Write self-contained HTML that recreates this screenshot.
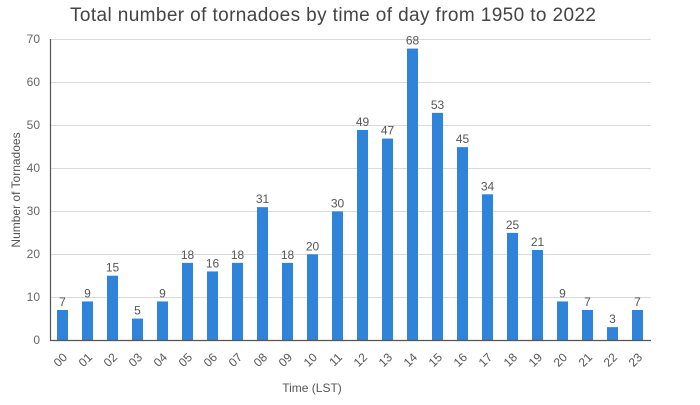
<!DOCTYPE html>
<html><head><meta charset="utf-8"><style>body{margin:0;background:#fff}</style></head><body>
<svg width="700" height="400" xmlns="http://www.w3.org/2000/svg" font-family="'Liberation Sans',sans-serif">
<text x="70" y="21" font-size="19" fill="#444" textLength="526" lengthAdjust="spacing">Total number of tornadoes by time of day from 1950 to 2022</text>
<g stroke="#d9d9d9" stroke-width="1">
<line x1="50" x2="651" y1="297.5" y2="297.5"/><line x1="50" x2="651" y1="254.5" y2="254.5"/><line x1="50" x2="651" y1="211.5" y2="211.5"/><line x1="50" x2="651" y1="168.5" y2="168.5"/><line x1="50" x2="651" y1="125.5" y2="125.5"/><line x1="50" x2="651" y1="82.5" y2="82.5"/><line x1="50" x2="651" y1="39.5" y2="39.5"/>
</g>
<g font-size="12" fill="#666" text-anchor="end">
<text x="40" y="344">0</text><text x="40" y="301">10</text><text x="40" y="258">20</text><text x="40" y="215">30</text><text x="40" y="172">40</text><text x="40" y="129">50</text><text x="40" y="86">60</text><text x="40" y="43">70</text>
</g>
<text transform="translate(20,190) rotate(-90)" font-size="12" fill="#555" text-anchor="middle">Number of Tornadoes</text>
<text x="312" y="392" font-size="12" fill="#555" text-anchor="middle">Time (LST)</text>
<g fill="#2f84d9">
<rect x="57" y="310" width="11" height="30"/>
<rect x="82" y="301.43" width="11" height="38.57"/>
<rect x="107" y="275.71" width="11" height="64.29"/>
<rect x="132" y="318.57" width="11" height="21.43"/>
<rect x="157" y="301.43" width="11" height="38.57"/>
<rect x="182" y="262.86" width="11" height="77.14"/>
<rect x="207" y="271.43" width="11" height="68.57"/>
<rect x="232" y="262.86" width="11" height="77.14"/>
<rect x="257" y="207.14" width="11" height="132.86"/>
<rect x="282" y="262.86" width="11" height="77.14"/>
<rect x="307" y="254.29" width="11" height="85.71"/>
<rect x="332" y="211.43" width="11" height="128.57"/>
<rect x="357" y="130" width="11" height="210"/>
<rect x="382" y="138.57" width="11" height="201.43"/>
<rect x="407" y="48.57" width="11" height="291.43"/>
<rect x="432" y="112.86" width="11" height="227.14"/>
<rect x="457" y="147.14" width="11" height="192.86"/>
<rect x="482" y="194.29" width="11" height="145.71"/>
<rect x="507" y="232.86" width="11" height="107.14"/>
<rect x="532" y="250" width="11" height="90"/>
<rect x="557" y="301.43" width="11" height="38.57"/>
<rect x="582" y="310" width="11" height="30"/>
<rect x="607" y="327.14" width="11" height="12.86"/>
<rect x="632" y="310" width="11" height="30"/>
</g>
<g font-size="12" fill="#555" text-anchor="middle">
<text x="62.5" y="306">7</text>
<text x="87.5" y="297.4">9</text>
<text x="112.5" y="271.7">15</text>
<text x="137.5" y="314.6">5</text>
<text x="162.5" y="297.4">9</text>
<text x="187.5" y="258.9">18</text>
<text x="212.5" y="267.4">16</text>
<text x="237.5" y="258.9">18</text>
<text x="262.5" y="203.1">31</text>
<text x="287.5" y="258.9">18</text>
<text x="312.5" y="250.3">20</text>
<text x="337.5" y="207.4">30</text>
<text x="362.5" y="126">49</text>
<text x="387.5" y="134.6">47</text>
<text x="412.5" y="44.6">68</text>
<text x="437.5" y="108.9">53</text>
<text x="462.5" y="143.1">45</text>
<text x="487.5" y="190.3">34</text>
<text x="512.5" y="228.9">25</text>
<text x="537.5" y="246">21</text>
<text x="562.5" y="297.4">9</text>
<text x="587.5" y="306">7</text>
<text x="612.5" y="323.1">3</text>
<text x="637.5" y="306">7</text>
</g>
<g font-size="12" fill="#555" text-anchor="end">
<text transform="translate(68,358) rotate(-45)">00</text>
<text transform="translate(93,358) rotate(-45)">01</text>
<text transform="translate(118,358) rotate(-45)">02</text>
<text transform="translate(143,358) rotate(-45)">03</text>
<text transform="translate(168,358) rotate(-45)">04</text>
<text transform="translate(193,358) rotate(-45)">05</text>
<text transform="translate(218,358) rotate(-45)">06</text>
<text transform="translate(243,358) rotate(-45)">07</text>
<text transform="translate(268,358) rotate(-45)">08</text>
<text transform="translate(293,358) rotate(-45)">09</text>
<text transform="translate(318,358) rotate(-45)">10</text>
<text transform="translate(343,358) rotate(-45)">11</text>
<text transform="translate(368,358) rotate(-45)">12</text>
<text transform="translate(393,358) rotate(-45)">13</text>
<text transform="translate(418,358) rotate(-45)">14</text>
<text transform="translate(443,358) rotate(-45)">15</text>
<text transform="translate(468,358) rotate(-45)">16</text>
<text transform="translate(493,358) rotate(-45)">17</text>
<text transform="translate(518,358) rotate(-45)">18</text>
<text transform="translate(543,358) rotate(-45)">19</text>
<text transform="translate(568,358) rotate(-45)">20</text>
<text transform="translate(593,358) rotate(-45)">21</text>
<text transform="translate(618,358) rotate(-45)">22</text>
<text transform="translate(643,358) rotate(-45)">23</text>
</g>
<line x1="50" x2="651" y1="340.5" y2="340.5" stroke="#555" stroke-width="1.2"/>
<line x1="50.5" x2="50.5" y1="39" y2="341" stroke="#555" stroke-width="1.2"/>
</svg>
</body></html>
